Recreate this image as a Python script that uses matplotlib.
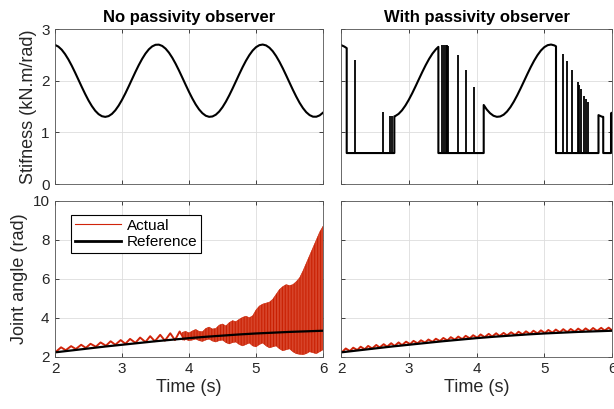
import matplotlib.pyplot as plt
import numpy as np

plt.rcParams['font.family'] = ['Liberation Sans', 'DejaVu Sans']
plt.rcParams['hatch.linewidth'] = 0.7

# ---- stiffness schedule (top left), sampled every 0.05 s from 2 to 6 s
stiff_t = np.linspace(2, 6, 81)
stiffness = [2.693, 2.660, 2.600, 2.515, 2.411, 2.290, 2.157, 2.018, 1.878, 1.743,
             1.618, 1.509, 1.419, 1.353, 1.313, 1.300, 1.315, 1.358, 1.427, 1.519,
             1.630, 1.755, 1.891, 2.031, 2.170, 2.302, 2.422, 2.525, 2.607, 2.664,
             2.695, 2.698, 2.673, 2.621, 2.544, 2.445, 2.328, 2.198, 2.060, 1.920,
             1.783, 1.655, 1.540, 1.444, 1.371, 1.322, 1.301, 1.308, 1.342, 1.403,
             1.488, 1.594, 1.716, 1.849, 1.988, 2.128, 2.263, 2.387, 2.495, 2.584,
             2.649, 2.688, 2.700, 2.683, 2.639, 2.570, 2.477, 2.365, 2.239, 2.103,
             1.963, 1.824, 1.693, 1.573, 1.471, 1.390, 1.334, 1.304, 1.303, 1.329,
             1.382]

# ---- stiffness with passivity observer (top right)
obs_t = [2.00, 2.05, 2.084, 2.084, 2.787, 2.787, 2.80, 2.85, 2.90, 2.95, 3.00, 3.05,
         3.10, 3.15, 3.20, 3.25, 3.30, 3.35, 3.40, 3.437, 3.437, 4.106, 4.106, 4.15,
         4.20, 4.25, 4.30, 4.35, 4.40, 4.45, 4.50, 4.55, 4.60, 4.65, 4.70, 4.75, 4.80,
         4.85, 4.90, 4.95, 5.00, 5.05, 5.10, 5.15, 5.173, 5.173, 5.80, 5.80, 5.85,
         5.87, 5.87, 5.985, 5.985, 6.00]
obs_k = [2.69, 2.66, 2.63, 0.6, 0.6, 1.31, 1.315, 1.358, 1.427, 1.519, 1.630, 1.755,
         1.891, 2.031, 2.170, 2.302, 2.422, 2.525, 2.607, 2.655, 0.6, 0.6, 1.53, 1.444,
         1.371, 1.322, 1.301, 1.308, 1.342, 1.403, 1.488, 1.594, 1.716, 1.849, 1.988,
         2.128, 2.263, 2.387, 2.495, 2.584, 2.649, 2.688, 2.700, 2.683, 2.665, 0.6,
         0.6, 1.334, 1.304, 1.30, 0.6, 0.6, 1.37, 1.38]
floor_k = 0.6
spike_t = [2.207, 2.615, 2.723, 2.755, 3.496, 3.52, 3.55, 3.565, 3.584, 3.722, 3.85,
           3.968, 5.281, 5.34, 5.414, 5.494, 5.518, 5.542, 5.592, 5.616, 5.641]
spike_k = [2.40, 1.39, 1.31, 1.31, 2.69, 2.70, 2.70, 2.70, 2.68, 2.50, 2.20, 1.88,
           2.52, 2.39, 2.20, 1.98, 1.91, 1.84, 1.70, 1.64, 1.58]

# ---- reference joint angle
ref_t = [2.00, 2.25, 2.50, 2.75, 3.00, 3.25, 3.50, 3.75, 4.00, 4.25, 4.50, 4.75,
         5.00, 5.25, 5.50, 5.75, 6.00]
ref_q = [2.22, 2.32, 2.42, 2.52, 2.61, 2.70, 2.79, 2.87, 2.95, 3.02, 3.08, 3.14,
         3.19, 3.23, 3.27, 3.30, 3.33]

# ---- actual angle, no observer: slow ripple extremes up to ~3.9 s
act_peak_t = [2.09, 2.24, 2.39, 2.53, 2.68, 2.83, 2.98, 3.12, 3.27, 3.42, 3.57, 3.72, 3.86]
act_peak_q = [2.48, 2.54, 2.61, 2.66, 2.73, 2.79, 2.85, 2.91, 2.98, 3.05, 3.12, 3.20, 3.29]
act_trough_t = [2.02, 2.16, 2.31, 2.46, 2.61, 2.76, 2.90, 3.05, 3.20, 3.35, 3.49, 3.64,
                3.79, 3.93]
act_trough_q = [2.27, 2.33, 2.39, 2.45, 2.51, 2.56, 2.61, 2.66, 2.71, 2.75, 2.79, 2.82,
                2.85, 2.88]

# fast oscillation envelope after ~3.9 s
band_t = [3.90, 3.95, 4.00, 4.05, 4.10, 4.15, 4.20, 4.25, 4.30, 4.35, 4.40, 4.45,
          4.50, 4.55, 4.60, 4.65, 4.70, 4.75, 4.80, 4.85, 4.90, 4.95, 5.00, 5.05,
          5.10, 5.15, 5.20, 5.25, 5.30, 5.35, 5.40, 5.45, 5.50, 5.55, 5.60, 5.65,
          5.70, 5.75, 5.80, 5.85, 5.90, 5.95, 6.00]
band_hi = [3.25, 3.30, 3.22, 3.32, 3.40, 3.30, 3.28, 3.45, 3.52, 3.42, 3.45, 3.62,
           3.68, 3.58, 3.75, 3.85, 3.80, 3.92, 4.02, 4.08, 4.00, 4.10, 4.40, 4.60,
           4.70, 4.75, 4.80, 4.95, 5.20, 5.45, 5.60, 5.70, 5.65, 5.70, 5.85, 6.05,
           6.40, 6.80, 7.20, 7.60, 8.00, 8.40, 8.70]
band_lo = [2.85, 2.88, 2.82, 2.85, 2.90, 2.82, 2.78, 2.85, 2.90, 2.80, 2.75, 2.82,
           2.85, 2.72, 2.65, 2.72, 2.75, 2.62, 2.55, 2.62, 2.70, 2.55, 2.50, 2.62,
           2.70, 2.55, 2.45, 2.50, 2.55, 2.40, 2.30, 2.35, 2.40, 2.25, 2.15, 2.12,
           2.10, 2.15, 2.25, 2.20, 2.15, 2.25, 2.35]

# ---- actual angle, with observer: small ripple extremes
obs_peak_t = [2.07, 2.18, 2.29, 2.40, 2.52, 2.63, 2.74, 2.85, 2.96, 3.07, 3.18, 3.29,
              3.40, 3.51, 3.62, 3.73, 3.84, 3.95, 4.06, 4.18, 4.29, 4.40, 4.51, 4.62,
              4.73, 4.84, 4.95, 5.06, 5.17, 5.28, 5.39, 5.50, 5.61, 5.72, 5.84, 5.95]
obs_peak_q = [2.42, 2.46, 2.51, 2.55, 2.60, 2.64, 2.69, 2.73, 2.77, 2.81, 2.84, 2.88,
              2.92, 2.96, 3.00, 3.03, 3.07, 3.10, 3.14, 3.17, 3.20, 3.22, 3.25, 3.28,
              3.30, 3.33, 3.35, 3.37, 3.39, 3.41, 3.42, 3.44, 3.45, 3.47, 3.48, 3.49]
obs_trough_t = [2.02, 2.13, 2.24, 2.35, 2.46, 2.57, 2.68, 2.79, 2.90, 3.02, 3.13, 3.24,
                3.35, 3.46, 3.57, 3.68, 3.79, 3.90, 4.01, 4.12, 4.23, 4.34, 4.45, 4.57,
                4.68, 4.79, 4.90, 5.01, 5.12, 5.23, 5.34, 5.45, 5.56, 5.67, 5.78, 5.89,
                6.00]
obs_trough_q = [2.25, 2.29, 2.34, 2.38, 2.42, 2.47, 2.51, 2.55, 2.59, 2.64, 2.68, 2.72,
                2.76, 2.80, 2.83, 2.87, 2.90, 2.94, 2.97, 3.00, 3.03, 3.06, 3.09, 3.11,
                3.14, 3.16, 3.19, 3.21, 3.23, 3.25, 3.26, 3.28, 3.30, 3.31, 3.32, 3.34,
                3.35]

red = '#d0240a'
txt = '#262626'


def merge(t1, q1, t2, q2):
    t = np.array(t1 + t2)
    q = np.array(q1 + q2)
    o = np.argsort(t)
    return t[o], q[o]


def style(ax):
    ax.set_xlim(2, 6)
    ax.set_xticks([2, 3, 4, 5, 6])
    ax.grid(True, color='#dddddd', lw=0.6)
    ax.set_axisbelow(True)
    ax.tick_params(direction='in', length=3, width=0.6, top=True, right=True,
                   labelsize=11, colors=txt, pad=4)
    for s in ax.spines.values():
        s.set_color('#555555')
        s.set_linewidth(0.6)


fig = plt.figure(figsize=(6.14, 4.09), dpi=100)
ax1 = fig.add_axes([0.0896, 0.550, 0.4365, 0.379])
ax2 = fig.add_axes([0.5554, 0.550, 0.4414, 0.379])
ax3 = fig.add_axes([0.0896, 0.128, 0.4365, 0.381])
ax4 = fig.add_axes([0.5554, 0.128, 0.4414, 0.381])

# top left
ax1.plot(stiff_t, stiffness, color='black', lw=1.5)
# top right
ax2.plot(obs_t, obs_k, color='black', lw=1.5)
ax2.vlines(spike_t, floor_k, spike_k, color='black', lw=1.3)

for ax in (ax1, ax2):
    style(ax)
    ax.set_ylim(0, 3)
    ax.set_yticks([0, 1, 2, 3])
    ax.tick_params(labelbottom=False)
ax2.tick_params(labelleft=False)
ax1.set_title('No passivity observer', fontweight='bold', fontsize=12, pad=5)
ax2.set_title('With passivity observer', fontweight='bold', fontsize=12, pad=5)
ax1.set_ylabel('Stifness (kN.m/rad)', fontsize=13, color=txt, labelpad=3)

# bottom left
rt, rq = merge(act_peak_t, act_peak_q, act_trough_t, act_trough_q)
ax3.plot(rt, rq, color=red, lw=1.4, solid_joinstyle='round')
ax3.fill_between(band_t, band_lo, band_hi, facecolor='#e4654e', edgecolor='#c81e00',
                 hatch='|' * 11, lw=0.3)
ax3.plot(ref_t, ref_q, color='black', lw=1.6)

# bottom right
ot, oq = merge(obs_peak_t, obs_peak_q, obs_trough_t, obs_trough_q)
ax4.plot(ot, oq, color=red, lw=1.4, solid_joinstyle='round')
ax4.plot(ref_t, ref_q, color='black', lw=1.6)

for ax in (ax3, ax4):
    style(ax)
    ax.set_ylim(2, 10)
    ax.set_yticks([2, 4, 6, 8, 10])
    ax.set_xlabel('Time (s)', fontsize=13, color=txt, labelpad=2)
ax4.tick_params(labelleft=False)
ax3.set_ylabel('Joint angle (rad)', fontsize=13, color=txt, labelpad=3)

handles = [plt.Line2D([], [], color=red, lw=0.8), plt.Line2D([], [], color='black', lw=2)]
leg = ax3.legend(handles, ['Actual', 'Reference'], loc='upper left',
                 bbox_to_anchor=(0.06, 0.91), borderaxespad=0, fontsize=11,
                 handlelength=3.0, fancybox=False, framealpha=1, edgecolor='black',
                 borderpad=0.25, labelspacing=0.15, handletextpad=0.4)
leg.get_frame().set_linewidth(0.8)

fig.savefig('out.png', dpi=100)
